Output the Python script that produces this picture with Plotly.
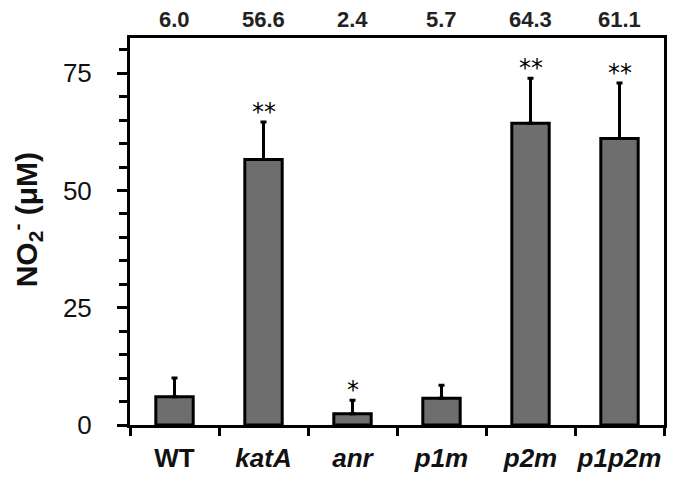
import plotly.graph_objects as go

categories = ["WT", "<i>katA</i>", "<i>anr</i>", "<i>p1m</i>", "<i>p2m</i>", "<i>p1p2m</i>"]
values = [6.0, 56.6, 2.4, 5.7, 64.3, 61.1]
errors = [4.0, 8.0, 2.9, 2.8, 9.6, 11.8]
stars = ["", "**", "*", "", "**", "**"]
top_labels = ["6.0", "56.6", "2.4", "5.7", "64.3", "61.1"]
y_ticks = [0, 25, 50, 75]

FONT = "Liberation Sans, Arial, sans-serif"

fig = go.Figure()
fig.add_trace(go.Bar(
    x=categories, y=values,
    marker=dict(color="#6e6e6e", line=dict(color="black", width=3)),
    error_y=dict(type="data", array=errors, arrayminus=[0] * len(errors),
                 symmetric=False, color="black", thickness=3, width=3),
    width=0.42,
    showlegend=False,
))

annotations = []
for c, v, e, s in zip(categories, values, errors, stars):
    if s:
        annotations.append(dict(x=c, y=v + e, text=s, showarrow=False, xref="x", yref="y",
                                yanchor="bottom", yshift=-6,
                                font=dict(family="DejaVu Sans", size=24, color="black")))
for c, t in zip(categories, top_labels):
    annotations.append(dict(x=c, y=1, text="<b>" + t + "</b>", showarrow=False, xref="x", yref="paper",
                            yanchor="middle", yshift=19,
                            font=dict(family=FONT, size=22, color="#222")))
annotations.append(dict(x=-0.194, y=0.53, xref="paper", yref="paper", textangle=-90,
                        xanchor="center", yanchor="middle",
                        text="<b>NO<sub>2</sub><sup>-</sup> (μM)</b>", showarrow=False,
                        font=dict(family=FONT, size=30, color="#111")))

fig.update_layout(
    width=659, height=464,
    margin=dict(l=122, r=3, t=30, b=47),
    plot_bgcolor="white", paper_bgcolor="white",
    bargap=0.58,
    annotations=annotations,
    xaxis=dict(
        showline=True, linecolor="black", linewidth=3, mirror=True,
        ticks="outside", ticklen=8, tickwidth=3, tickcolor="black",
        tickson="boundaries", tickangle=0, automargin=False,
        tickfont=dict(family=FONT, size=26, color="#111"),
        ticklabelstandoff=8,
        showgrid=False, zeroline=False,
        tickprefix="<b>", ticksuffix="</b>",
    ),
    yaxis=dict(
        range=[0, 82.5], automargin=False,
        showline=True, linecolor="black", linewidth=3, mirror=True,
        tickvals=y_ticks,
        ticks="outside", ticklen=10, tickwidth=3, tickcolor="black",
        minor=dict(dtick=5, tick0=0, ticks="outside", ticklen=8, tickwidth=3, tickcolor="black", showgrid=False),
        tickfont=dict(family=FONT, size=26, color="#111"),
        tickprefix="<b>", ticksuffix="</b>",
        ticklabelstandoff=20,
        showgrid=False, zeroline=False,
    ),
)

fig.write_html("out.html")
